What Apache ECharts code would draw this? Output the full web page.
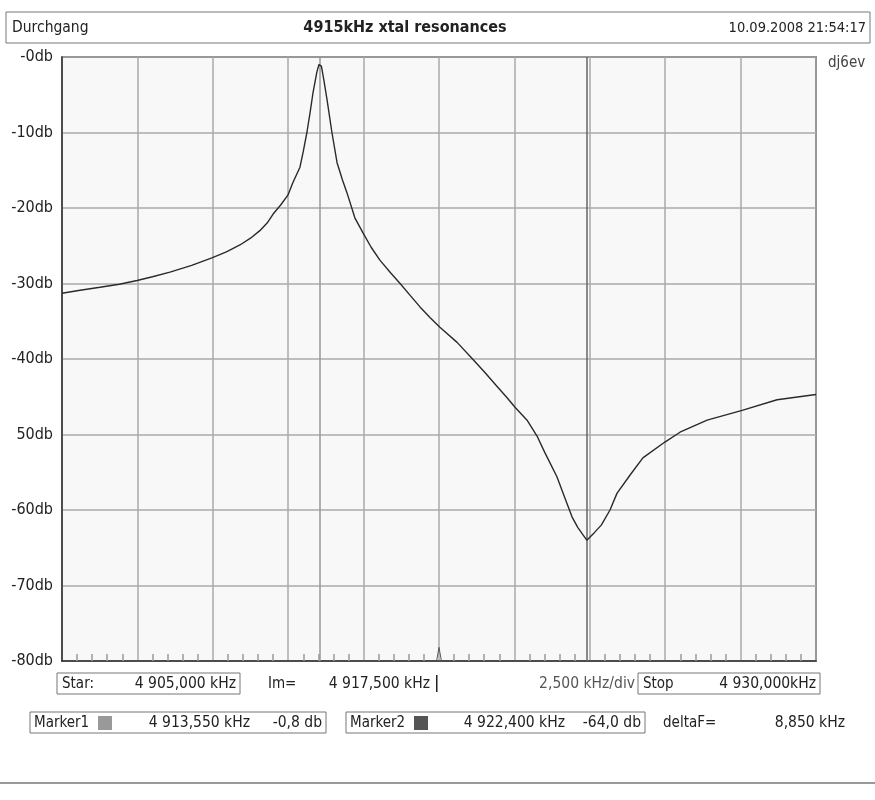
<!DOCTYPE html>
<html>
<head>
<meta charset="utf-8">
<script src="https://cdn.jsdelivr.net/npm/echarts@6/dist/echarts.min.js"></script>
<style>html,body{margin:0;padding:0;background:#fff}#c{width:875px;height:800px}</style>
</head>
<body>
<div id="c"></div>
<script>
// ---- data ----
const freqKHz = [4905.00,4905.60,4906.26,4906.90,4907.49,4908.00,4908.58,4909.30,4909.97,4910.45,4910.90,4911.25,4911.56,4911.80,4912.00,4912.25,4912.49,4912.66,4912.89,4913.00,4913.12,4913.22,4913.32,4913.45,4913.52,4913.55,4913.60,4913.68,4913.79,4913.95,4914.12,4914.30,4914.45,4914.71,4914.98,4915.25,4915.54,4915.90,4916.21,4916.55,4916.87,4917.20,4917.53,4918.10,4918.59,4919.00,4919.42,4919.75,4920.02,4920.42,4920.75,4921.01,4921.41,4921.74,4921.91,4922.10,4922.24,4922.40,4922.65,4922.88,4923.17,4923.40,4923.83,4924.26,4924.99,4925.49,4926.39,4927.55,4928.71,4930.00];
const levelDb = [-31.3,-30.9,-30.5,-30.1,-29.6,-29.1,-28.5,-27.6,-26.6,-25.8,-24.9,-24.0,-23.0,-22.0,-20.8,-19.6,-18.3,-16.6,-14.6,-12.5,-10.0,-7.5,-4.8,-2.0,-1.0,-0.8,-1.2,-3.0,-5.7,-10.0,-14.0,-16.3,-18.0,-21.3,-23.3,-25.2,-26.9,-28.6,-30.0,-31.6,-33.1,-34.5,-35.8,-37.8,-39.9,-41.7,-43.6,-45.1,-46.4,-48.1,-50.2,-52.4,-55.6,-59.1,-60.9,-62.3,-63.1,-64.0,-63.0,-62.0,-60.0,-57.8,-55.4,-53.1,-51.0,-49.7,-48.1,-46.8,-45.4,-44.7];
const yTickValues = [-80,-70,-60,-50,-40,-30,-20,-10,0];
const yTickLabels = ['-80db','-70db','-60db','50db','-40db','-30db','-20db','-10db','-0db'];
const markerFreqs = [4913.55, 4922.40];
const centerMarkFreq = [4917.42, 4917.50, 4917.58];
const centerMarkDb = [-80, -78.2, -80];

const FONT = "'Liberation Sans Narrow','DejaVu Sans Condensed','Liberation Sans',sans-serif";
const chart = echarts.init(document.getElementById('c'));

function box(x, y, w, h) {
  return {type:'rect', shape:{x:x, y:y, width:w, height:h}, style:{fill:'#fff', stroke:'#777', lineWidth:1}};
}
function txt(x, y, s, opts) {
  return {type:'text', x:x, y:y, style:Object.assign({text:s, fill:'#222', font:'15px ' + FONT, textVerticalAlign:'middle'}, opts||{})};
}
const NUM = '15.5px ' + FONT;

chart.setOption({
  backgroundColor:'#fff',
  animation:false,
  grid:{left:62, top:57, right:59, bottom:139, show:true, backgroundColor:'#f8f8f8', borderColor:'#333', borderWidth:1.5},
  xAxis:{type:'value', min:4905, max:4930, interval:2.5,
    axisLine:{show:true, onZero:false, lineStyle:{color:'#333', width:1.5}},
    axisTick:{show:false, inside:true},
    minorTick:{show:true, splitNumber:5, length:7, lineStyle:{color:'#999', width:1.5}},
    axisLabel:{show:false},
    splitLine:{show:true, lineStyle:{color:'#aaa', width:1.5}}},
  yAxis:{type:'value', min:-80, max:0, interval:10,
    axisLine:{show:true, onZero:false, lineStyle:{color:'#333', width:1.5}},
    axisTick:{show:false},
    axisLabel:{margin:9, color:'#222', fontSize:16, fontFamily:FONT,
      formatter:function(v){ const i = yTickValues.indexOf(Math.round(v)); return i>=0 ? yTickLabels[i] : ''; }},
    splitLine:{show:true, lineStyle:{color:'#aaa', width:1.5}}},
  series:[
    {type:'line', data:freqKHz.map((f,i)=>[f, levelDb[i]]), showSymbol:false, smooth:false,
     lineStyle:{color:'#2a2a2a', width:1.4}, z:5,
     markLine:{silent:true, symbol:'none', label:{show:false}, animation:false,
       data:[{xAxis:markerFreqs[0], lineStyle:{color:'#999', width:1.5, type:'solid'}},
             {xAxis:markerFreqs[1], lineStyle:{color:'#666', width:1.5, type:'solid'}}]}},
    {type:'line', data:centerMarkFreq.map((f,i)=>[f, centerMarkDb[i]]), showSymbol:false,
     lineStyle:{color:'#555', width:1}, z:6}
  ],
  graphic:[
    box(6, 12, 864, 31),
    txt(12, 28, 'Durchgang', {font:'15.5px ' + FONT}),
    txt(405, 28, '4915kHz xtal resonances', {textAlign:'center', font:'bold 16px ' + FONT}),
    txt(866, 28, '10.09.2008 21:54:17', {textAlign:'right', font:'14.5px ' + FONT}),
    txt(828, 63, 'dj6ev', {fill:'#444'}),
    box(57, 673, 183, 21),
    txt(62, 684, 'Star:'),
    txt(236, 684, '4 905,000 kHz', {textAlign:'right', font:NUM}),
    txt(268, 684, 'Im='),
    txt(430, 684, '4 917,500 kHz', {textAlign:'right', font:NUM}),
    {type:'rect', shape:{x:436, y:675, width:1.5, height:17}, style:{fill:'#222'}},
    txt(635, 684, '2,500 kHz/div', {textAlign:'right', fill:'#555', font:NUM}),
    box(638, 673, 182, 21),
    txt(643, 684, 'Stop'),
    txt(816, 684, '4 930,000kHz', {textAlign:'right', font:NUM}),
    box(30, 712, 296, 21),
    txt(34, 723, 'Marker1'),
    {type:'rect', shape:{x:98, y:716, width:14, height:14}, style:{fill:'#999'}},
    txt(250, 723, '4 913,550 kHz', {textAlign:'right', font:NUM}),
    txt(322, 723, '-0,8 db', {textAlign:'right', font:NUM}),
    box(346, 712, 299, 21),
    txt(350, 723, 'Marker2'),
    {type:'rect', shape:{x:414, y:716, width:14, height:14}, style:{fill:'#555'}},
    txt(565, 723, '4 922,400 kHz', {textAlign:'right', font:NUM}),
    txt(641, 723, '-64,0 db', {textAlign:'right', font:NUM}),
    txt(663, 723, 'deltaF='),
    txt(845, 723, '8,850 kHz', {textAlign:'right', font:NUM}),
    {type:'rect', shape:{x:0, y:782, width:875, height:2}, style:{fill:'#999'}}
  ]
});
</script>
</body>
</html>
